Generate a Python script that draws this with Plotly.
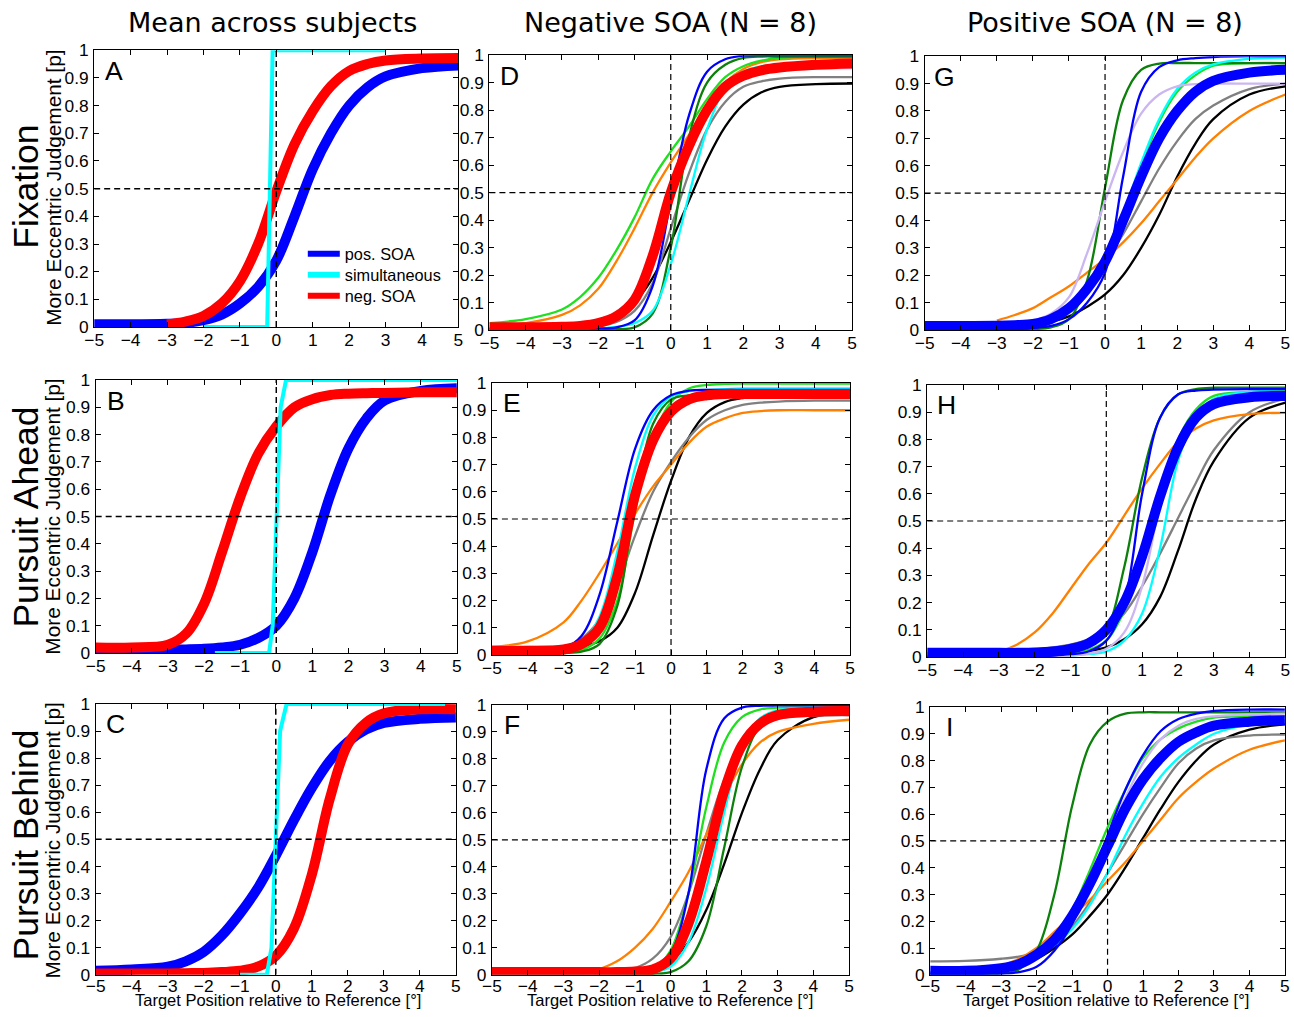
import plotly.graph_objects as go

# ---------------- data ----------------
X = [-5, -4, -3, -2.5, -2, -1.5, -1, -0.5, 0, 0.5, 1, 1.5, 2, 2.5, 3, 4, 5]

COL_TITLES = ["Mean across subjects", "Negative SOA (N = 8)", "Positive SOA (N = 8)"]
ROW_TITLES = ["Fixation", "Pursuit Ahead", "Pursuit Behind"]
PANEL_LETTERS = ["A", "B", "C", "D", "E", "F", "G", "H", "I"]
X_TICKS = [-5, -4, -3, -2, -1, 0, 1, 2, 3, 4, 5]
Y_TICKS = [0, 0.1, 0.2, 0.3, 0.4, 0.5, 0.6, 0.7, 0.8, 0.9, 1]
Y_TICKTEXT = ["0", "0.1", "0.2", "0.3", "0.4", "0.5", "0.6", "0.7", "0.8", "0.9", "1"]
LEGEND_NAMES = ["pos. SOA", "simultaneous", "neg. SOA"]

# Column 1: means across subjects
A_pos = [0.01, 0.01, 0.012, 0.015, 0.025, 0.045, 0.085, 0.145, 0.24, 0.4, 0.57, 0.7, 0.8, 0.865, 0.905, 0.935, 0.945]
A_neg = [None, None, 0.01, 0.02, 0.04, 0.085, 0.165, 0.3, 0.49, 0.66, 0.78, 0.87, 0.925, 0.95, 0.963, 0.97, 0.972]
A_sim_x = [-2, -0.25, -0.1, 3]
A_sim_y = [0, 0, 1, 1]

B_pos = [0.01, 0.01, 0.012, 0.013, 0.015, 0.02, 0.03, 0.055, 0.1, 0.2, 0.37, 0.58, 0.75, 0.86, 0.925, 0.96, 0.97]
B_neg = [0.02, 0.02, 0.03, 0.07, 0.18, 0.37, 0.57, 0.73, 0.83, 0.9, 0.93, 0.945, 0.95, 0.952, 0.953, 0.955, 0.955]
B_sim_x = [-1.7, -0.2, -0.1, 0, 0.12, 0.27, 5]
B_sim_y = [0, 0, 0.1, 0.5, 0.9, 1, 1]

C_pos = [0.015, 0.02, 0.03, 0.05, 0.085, 0.145, 0.225, 0.32, 0.44, 0.57, 0.69, 0.79, 0.86, 0.905, 0.93, 0.945, 0.95]
C_neg = [0.005, 0.005, 0.005, 0.006, 0.007, 0.01, 0.015, 0.03, 0.07, 0.17, 0.37, 0.65, 0.85, 0.93, 0.965, 0.98, 0.98]
C_sim_x = [-1, -0.25, -0.12, 0, 0.12, 0.3, 4.7]
C_sim_y = [0, 0, 0.1, 0.5, 0.9, 1, 1]

# Column 2: negative SOA, individual subjects + mean
D_black = [0.005, 0.006, 0.01, 0.015, 0.025, 0.05, 0.1, 0.19, 0.32, 0.47, 0.62, 0.74, 0.82, 0.865, 0.885, 0.895, 0.897]
D_gray = [0.005, 0.005, 0.007, 0.01, 0.015, 0.03, 0.07, 0.17, 0.37, 0.57, 0.73, 0.83, 0.885, 0.905, 0.915, 0.92, 0.92]
D_orange = [0.015, 0.025, 0.055, 0.09, 0.15, 0.25, 0.37, 0.5, 0.61, 0.71, 0.81, 0.9, 0.95, 0.975, 0.985, 0.99, 0.99]
D_green = [0.025, 0.04, 0.075, 0.12, 0.19, 0.29, 0.41, 0.55, 0.65, 0.74, 0.84, 0.92, 0.96, 0.98, 0.99, 0.995, 0.995]
D_dkgreen = [0.0, 0.0, 0.0, 0.001, 0.001, 0.003, 0.01, 0.06, 0.3, 0.7, 0.9, 0.965, 0.99, 0.995, 0.995, 0.995, 0.995]
D_cyan = [0.0, 0.0, 0.002, 0.004, 0.007, 0.012, 0.025, 0.07, 0.24, 0.49, 0.73, 0.88, 0.94, 0.96, 0.965, 0.97, 0.97]
D_lav = [0.01, 0.01, 0.013, 0.017, 0.03, 0.055, 0.12, 0.28, 0.52, 0.7, 0.82, 0.89, 0.92, 0.94, 0.948, 0.952, 0.953]
D_blue = [0.005, 0.005, 0.005, 0.005, 0.006, 0.01, 0.035, 0.16, 0.47, 0.78, 0.94, 0.985, 0.998, 1.0, 1.0, 1.0, 1.0]
D_mean = [0.01, 0.01, 0.012, 0.015, 0.025, 0.05, 0.11, 0.27, 0.5, 0.67, 0.8, 0.885, 0.925, 0.945, 0.955, 0.965, 0.97]

E_black = [0.01, 0.012, 0.02, 0.03, 0.05, 0.1, 0.23, 0.44, 0.64, 0.8, 0.89, 0.93, 0.945, 0.95, 0.95, 0.95, 0.95]
E_gray = [0.02, 0.02, 0.03, 0.06, 0.13, 0.26, 0.44, 0.6, 0.71, 0.8, 0.865, 0.9, 0.92, 0.928, 0.932, 0.935, 0.935]
E_orange = [0.03, 0.05, 0.12, 0.2, 0.3, 0.41, 0.52, 0.62, 0.7, 0.78, 0.84, 0.87, 0.89, 0.897, 0.9, 0.9, 0.9]
E_green = [0.005, 0.006, 0.01, 0.018, 0.06, 0.2, 0.53, 0.8, 0.93, 0.98, 0.993, 0.997, 0.998, 0.998, 0.998, 0.998, 0.998]
E_dkgreen = [0.005, 0.005, 0.007, 0.012, 0.04, 0.18, 0.57, 0.85, 0.94, 0.955, 0.96, 0.96, 0.96, 0.96, 0.96, 0.96, 0.96]
E_cyan = [0.03, 0.03, 0.032, 0.045, 0.14, 0.38, 0.69, 0.88, 0.95, 0.97, 0.975, 0.978, 0.98, 0.98, 0.98, 0.98, 0.98]
E_lav = [0.01, 0.01, 0.015, 0.03, 0.09, 0.27, 0.58, 0.8, 0.905, 0.945, 0.955, 0.958, 0.96, 0.96, 0.96, 0.96, 0.96]
E_blue = [0.02, 0.02, 0.025, 0.07, 0.22, 0.49, 0.76, 0.9, 0.955, 0.972, 0.975, 0.975, 0.975, 0.975, 0.975, 0.975, 0.975]
E_mean = [0.015, 0.015, 0.02, 0.04, 0.1, 0.29, 0.59, 0.79, 0.895, 0.94, 0.955, 0.96, 0.96, 0.96, 0.96, 0.96, 0.96]

F_black = [0.005, 0.005, 0.005, 0.005, 0.006, 0.006, 0.007, 0.015, 0.05, 0.12, 0.24, 0.41, 0.6, 0.76, 0.87, 0.955, 0.965]
F_gray = [0.01, 0.01, 0.01, 0.01, 0.012, 0.015, 0.025, 0.06, 0.14, 0.3, 0.52, 0.72, 0.85, 0.92, 0.95, 0.96, 0.962]
F_orange = [None, None, None, None, 0.02, 0.05, 0.1, 0.17, 0.27, 0.38, 0.52, 0.66, 0.78, 0.86, 0.9, 0.93, 0.945]
F_green = [0.005, 0.005, 0.005, 0.005, 0.005, 0.005, 0.005, 0.02, 0.09, 0.3, 0.62, 0.86, 0.955, 0.983, 0.99, 0.99, 0.99]
F_dkgreen = [0.0, 0.0, 0.0, 0.0, 0.0, 0.001, 0.002, 0.004, 0.01, 0.05, 0.18, 0.47, 0.77, 0.92, 0.96, 0.97, 0.97]
F_cyan = [0.005, 0.005, 0.005, 0.005, 0.005, 0.005, 0.005, 0.01, 0.03, 0.12, 0.32, 0.6, 0.84, 0.95, 0.98, 0.99, 0.99]
F_lav = [0.005, 0.005, 0.005, 0.005, 0.005, 0.006, 0.008, 0.015, 0.04, 0.15, 0.38, 0.66, 0.86, 0.94, 0.96, 0.97, 0.97]
F_blue = [0.02, 0.02, 0.02, 0.02, 0.02, 0.02, 0.02, 0.03, 0.08, 0.3, 0.76, 0.95, 0.99, 0.997, 0.998, 0.998, 0.998]
F_mean = [0.01, 0.01, 0.01, 0.01, 0.01, 0.01, 0.012, 0.02, 0.06, 0.19, 0.42, 0.68, 0.85, 0.93, 0.962, 0.975, 0.977]

# Column 3: positive SOA, individual subjects + mean
G_black = [0.005, 0.005, 0.007, 0.01, 0.015, 0.03, 0.05, 0.085, 0.13, 0.2, 0.3, 0.42, 0.56, 0.68, 0.77, 0.86, 0.89]
G_gray = [0.01, 0.01, 0.012, 0.015, 0.025, 0.04, 0.08, 0.15, 0.25, 0.35, 0.47, 0.59, 0.69, 0.77, 0.82, 0.88, 0.9]
G_orange = [None, None, 0.035, 0.055, 0.08, 0.12, 0.16, 0.21, 0.26, 0.32, 0.39, 0.47, 0.55, 0.63, 0.7, 0.8, 0.86]
G_green = [0.01, 0.01, 0.011, 0.012, 0.015, 0.03, 0.065, 0.13, 0.24, 0.41, 0.6, 0.76, 0.87, 0.93, 0.965, 0.975, 0.975]
G_dkgreen = [0.0, 0.0, 0.001, 0.002, 0.004, 0.01, 0.04, 0.18, 0.52, 0.84, 0.95, 0.973, 0.975, 0.975, 0.975, 0.975, 0.975]
G_cyan = [0.02, 0.02, 0.02, 0.02, 0.022, 0.035, 0.07, 0.14, 0.25, 0.42, 0.61, 0.77, 0.88, 0.94, 0.97, 0.99, 0.995]
G_lav = [None, None, 0.02, 0.025, 0.035, 0.06, 0.12, 0.28, 0.47, 0.65, 0.79, 0.86, 0.89, 0.898, 0.9, 0.9, 0.9]
G_blue = [0.005, 0.005, 0.005, 0.005, 0.008, 0.015, 0.04, 0.1, 0.21, 0.56, 0.87, 0.96, 0.985, 0.993, 0.997, 1.0, 1.0]
G_mean = [0.015, 0.015, 0.016, 0.018, 0.022, 0.04, 0.08, 0.15, 0.25, 0.4, 0.56, 0.7, 0.8, 0.87, 0.91, 0.94, 0.95]

H_black = [0.005, 0.005, 0.005, 0.006, 0.007, 0.01, 0.015, 0.022, 0.035, 0.065, 0.12, 0.22, 0.39, 0.58, 0.72, 0.88, 0.935]
H_gray = [0.015, 0.017, 0.02, 0.022, 0.027, 0.035, 0.045, 0.065, 0.1, 0.16, 0.26, 0.38, 0.51, 0.64, 0.76, 0.9, 0.95]
H_orange = [None, None, 0.02, 0.045, 0.09, 0.16, 0.25, 0.34, 0.42, 0.52, 0.62, 0.71, 0.79, 0.84, 0.87, 0.893, 0.898]
H_green = [0.005, 0.005, 0.005, 0.006, 0.007, 0.008, 0.01, 0.025, 0.06, 0.17, 0.37, 0.6, 0.8, 0.91, 0.96, 0.975, 0.98]
H_dkgreen = [0.0, 0.0, 0.001, 0.001, 0.002, 0.005, 0.015, 0.04, 0.1, 0.33, 0.66, 0.88, 0.965, 0.985, 0.99, 0.99, 0.99]
H_cyan = [0.0, 0.0, 0.001, 0.002, 0.003, 0.004, 0.005, 0.01, 0.02, 0.06, 0.16, 0.4, 0.72, 0.88, 0.95, 0.975, 0.975]
H_lav = [0.0, 0.0, 0.001, 0.002, 0.003, 0.004, 0.005, 0.012, 0.03, 0.09, 0.26, 0.56, 0.78, 0.89, 0.94, 0.965, 0.97]
H_blue = [0.0, 0.0, 0.001, 0.002, 0.003, 0.005, 0.01, 0.02, 0.06, 0.2, 0.6, 0.88, 0.965, 0.98, 0.983, 0.985, 0.985]
H_mean = [0.015, 0.015, 0.015, 0.015, 0.016, 0.02, 0.03, 0.05, 0.1, 0.2, 0.37, 0.59, 0.77, 0.88, 0.93, 0.955, 0.96]

I_black = [0.01, 0.013, 0.025, 0.04, 0.06, 0.1, 0.15, 0.22, 0.3, 0.4, 0.51, 0.62, 0.72, 0.8, 0.86, 0.915, 0.935]
I_gray = [0.05, 0.052, 0.06, 0.068, 0.085, 0.12, 0.18, 0.27, 0.38, 0.49, 0.6, 0.7, 0.79, 0.845, 0.875, 0.893, 0.897]
I_orange = [None, None, 0.035, 0.06, 0.1, 0.16, 0.22, 0.28, 0.35, 0.42, 0.5, 0.58, 0.66, 0.72, 0.77, 0.84, 0.875]
I_green = [0.01, 0.012, 0.025, 0.04, 0.07, 0.13, 0.24, 0.39, 0.55, 0.69, 0.81, 0.88, 0.92, 0.945, 0.96, 0.965, 0.965]
I_dkgreen = [0.0, 0.0, 0.005, 0.02, 0.09, 0.3, 0.63, 0.86, 0.945, 0.975, 0.98, 0.98, 0.98, 0.98, 0.98, 0.98, 0.98]
I_cyan = [0.01, 0.012, 0.025, 0.04, 0.07, 0.11, 0.17, 0.26, 0.38, 0.52, 0.64, 0.74, 0.81, 0.86, 0.9, 0.935, 0.95]
I_lav = [0.01, 0.012, 0.022, 0.04, 0.075, 0.13, 0.23, 0.36, 0.51, 0.66, 0.79, 0.88, 0.93, 0.955, 0.965, 0.972, 0.975]
I_blue = [0.005, 0.005, 0.005, 0.01, 0.03, 0.09, 0.19, 0.34, 0.52, 0.69, 0.82, 0.91, 0.955, 0.975, 0.985, 0.99, 0.99]
I_mean = [0.015, 0.015, 0.025, 0.04, 0.075, 0.13, 0.22, 0.34, 0.48, 0.62, 0.73, 0.81, 0.87, 0.905, 0.93, 0.945, 0.95]

# ---------------- styles ----------------
COLORS = {
    "black": "#000000", "gray": "#808080", "orange": "#ff8000", "green": "#1ee01e",
    "dkgreen": "#0b800b", "cyan": "#00ffff", "lav": "#cbb6f2", "blue": "#0000ff",
}
POS_COLOR = "#0000ff"
NEG_COLOR = "#ff0000"
SIM_COLOR = "#00ffff"

W, H = 1294, 1017
# the captured page includes the body margin and is scaled to fit;
# target positions (in final-picture pixels) are mapped back to figure pixels
OFFX, OFFY = 9.5, 10
KX = 1294 / 1310
KY = 1017 / 1037


def px(x):
    return (x / KX - OFFX) / W


def py(y):
    return 1 - (y / KY - OFFY) / H


FS = 1 / KY  # font scale compensation

# panel boxes in picture pixels: (left, right, top, bottom), order A..I (column-major)
BOXES = [
    (93.5, 457.5, 50, 327), (95, 456, 380, 653), (95, 455, 704, 975),
    (488.5, 851, 55, 330), (491, 849, 383, 655), (491, 848, 705, 975),
    (923.5, 1284, 56, 330), (926, 1284, 385, 657), (929, 1283.5, 707, 975),
]

TICK_FONT = dict(family="Liberation Sans, Arial, sans-serif", size=17 * FS, color="black")

fig = go.Figure()


def ax_names(i):
    s = "" if i == 1 else str(i)
    return "x" + s, "y" + s, "xaxis" + s, "yaxis" + s


def line_trace(i, x, y, color, width, shape="spline"):
    xr, yr, _, _ = ax_names(i)
    return go.Scatter(x=x, y=y, mode="lines", xaxis=xr, yaxis=yr,
                      line=dict(color=color, width=width, shape=shape, smoothing=1.0),
                      showlegend=False, hoverinfo="skip")


# Column 1
col1 = [(A_pos, A_neg, A_sim_x, A_sim_y), (B_pos, B_neg, B_sim_x, B_sim_y), (C_pos, C_neg, C_sim_x, C_sim_y)]
for r, (pos, neg, sx, sy) in enumerate(col1):
    i = r + 1
    fig.add_trace(line_trace(i, X, pos, POS_COLOR, 10))
    fig.add_trace(line_trace(i, X, neg, NEG_COLOR, 10))
    fig.add_trace(line_trace(i, sx, sy, SIM_COLOR, 4, shape="linear"))

# legend entries: one small legend per entry so the rows sit exactly as in the reference
LEGEND_IDS = ["legend", "legend2", "legend3"]
LEGEND_ROWS = [254, 275, 296]
for name, col, lid in zip(LEGEND_NAMES, [POS_COLOR, SIM_COLOR, NEG_COLOR], LEGEND_IDS):
    fig.add_trace(go.Scatter(x=[None], y=[None], mode="lines", xaxis="x", yaxis="y",
                             line=dict(color=col, width=6), name=name, showlegend=True,
                             legend=lid, hoverinfo="skip"))

SUBJECT_ORDER = ["black", "gray", "orange", "green", "dkgreen", "cyan", "lav", "blue"]
PANELS = {
    4: ({"black": D_black, "gray": D_gray, "orange": D_orange, "green": D_green, "dkgreen": D_dkgreen,
         "cyan": D_cyan, "lav": D_lav, "blue": D_blue}, D_mean, NEG_COLOR),
    5: ({"black": E_black, "gray": E_gray, "orange": E_orange, "green": E_green, "dkgreen": E_dkgreen,
         "cyan": E_cyan, "lav": E_lav, "blue": E_blue}, E_mean, NEG_COLOR),
    6: ({"black": F_black, "gray": F_gray, "orange": F_orange, "green": F_green, "dkgreen": F_dkgreen,
         "cyan": F_cyan, "lav": F_lav, "blue": F_blue}, F_mean, NEG_COLOR),
    7: ({"black": G_black, "gray": G_gray, "orange": G_orange, "green": G_green, "dkgreen": G_dkgreen,
         "cyan": G_cyan, "lav": G_lav, "blue": G_blue}, G_mean, POS_COLOR),
    8: ({"black": H_black, "gray": H_gray, "orange": H_orange, "green": H_green, "dkgreen": H_dkgreen,
         "cyan": H_cyan, "lav": H_lav, "blue": H_blue}, H_mean, POS_COLOR),
    9: ({"black": I_black, "gray": I_gray, "orange": I_orange, "green": I_green, "dkgreen": I_dkgreen,
         "cyan": I_cyan, "lav": I_lav, "blue": I_blue}, I_mean, POS_COLOR),
}
for i, (subs, mean, mcol) in PANELS.items():
    for key in SUBJECT_ORDER:
        fig.add_trace(line_trace(i, X, subs[key], COLORS[key], 2.3))
    fig.add_trace(line_trace(i, X, mean, mcol, 10))

layout = dict(
    width=W, height=H, margin=dict(l=0, r=0, t=0, b=0),
    paper_bgcolor="white", plot_bgcolor="white",
    showlegend=True,
)
for lid, ry in zip(LEGEND_IDS, LEGEND_ROWS):
    layout[lid] = dict(x=px(302), y=py(ry), xanchor="left", yanchor="middle",
                       bgcolor="rgba(0,0,0,0)", borderwidth=0, tracegroupgap=0,
                       font=dict(family="Liberation Sans, Arial, sans-serif", size=16 * FS, color="black"),
                       itemwidth=32)

shapes = []
annotations = []
for i, (l, rgt, t, b) in enumerate(BOXES, start=1):
    xr, yr, xa, ya = ax_names(i)
    bottom_row = (i % 3 == 0)
    layout[xa] = dict(domain=[px(l), px(rgt)], anchor=yr, range=[-5, 5], tickvals=X_TICKS,
                      ticks="inside", ticklen=5, tickcolor="black", tickwidth=1,
                      showline=True, linecolor="black", linewidth=1, mirror="ticks",
                      showgrid=False, zeroline=False, tickfont=TICK_FONT, fixedrange=True,
                      ticklabelstandoff=-5 if bottom_row else -3)
    layout[ya] = dict(domain=[py(b), py(t)], anchor=xr, range=[0, 1], tickvals=Y_TICKS,
                      ticktext=Y_TICKTEXT, ticks="inside", ticklen=5, tickcolor="black", tickwidth=1,
                      showline=True, linecolor="black", linewidth=1, mirror="ticks",
                      showgrid=False, zeroline=False, tickfont=TICK_FONT, fixedrange=True,
                      ticklabelstandoff=1)
    dash_w = 1.5 if i <= 3 else 1.2
    shapes.append(dict(type="line", xref=xr, yref=yr, x0=-5, x1=5, y0=0.5, y1=0.5,
                       line=dict(color="black", width=dash_w, dash="6px,4px"), layer="above"))
    shapes.append(dict(type="line", xref=xr, yref=yr, x0=0, x1=0, y0=0, y1=1,
                       line=dict(color="black", width=dash_w, dash="6px,4px"), layer="above"))
    annotations.append(dict(text=PANEL_LETTERS[i - 1], xref=xr, yref=yr, x=-4.45, y=0.925,
                            xanchor="center", yanchor="middle", showarrow=False,
                            font=dict(family="Liberation Sans, Arial, sans-serif", size=26 * FS, color="black")))

# column titles
for cx, txt in zip([272, 669, 1104], COL_TITLES):
    annotations.append(dict(text=txt, xref="paper", yref="paper", x=px(cx), y=py(22),
                            xanchor="center", yanchor="middle", showarrow=False,
                            font=dict(family="DejaVu Sans, Verdana, sans-serif", size=27, color="black")))
# row titles and y labels
for cy, ly, txt in zip([187, 517, 845], [188, 517, 841], ROW_TITLES):
    annotations.append(dict(text=txt, xref="paper", yref="paper", x=px(25), y=py(cy),
                            xanchor="center", yanchor="middle", showarrow=False, textangle=-90,
                            font=dict(family="Liberation Sans, Arial, sans-serif", size=35.5, color="black")))
    annotations.append(dict(text="More Eccentric Judgement [p]", xref="paper", yref="paper",
                            x=px(52), y=py(ly), xanchor="center", yanchor="middle",
                            showarrow=False, textangle=-90,
                            font=dict(family="Liberation Sans, Arial, sans-serif", size=20.8, color="black")))
# x labels (kept inside the visible page bottom)
for cx in [277, 669, 1105]:
    annotations.append(dict(text="Target Position relative to Reference [°]", xref="paper", yref="paper",
                            x=px(cx), y=0, yshift=-4, xanchor="center", yanchor="bottom", showarrow=False,
                            font=dict(family="Liberation Sans, Arial, sans-serif", size=16.5, color="black")))

layout["shapes"] = shapes
layout["annotations"] = annotations
fig.update_layout(**layout)
fig.write_html("out.html")
